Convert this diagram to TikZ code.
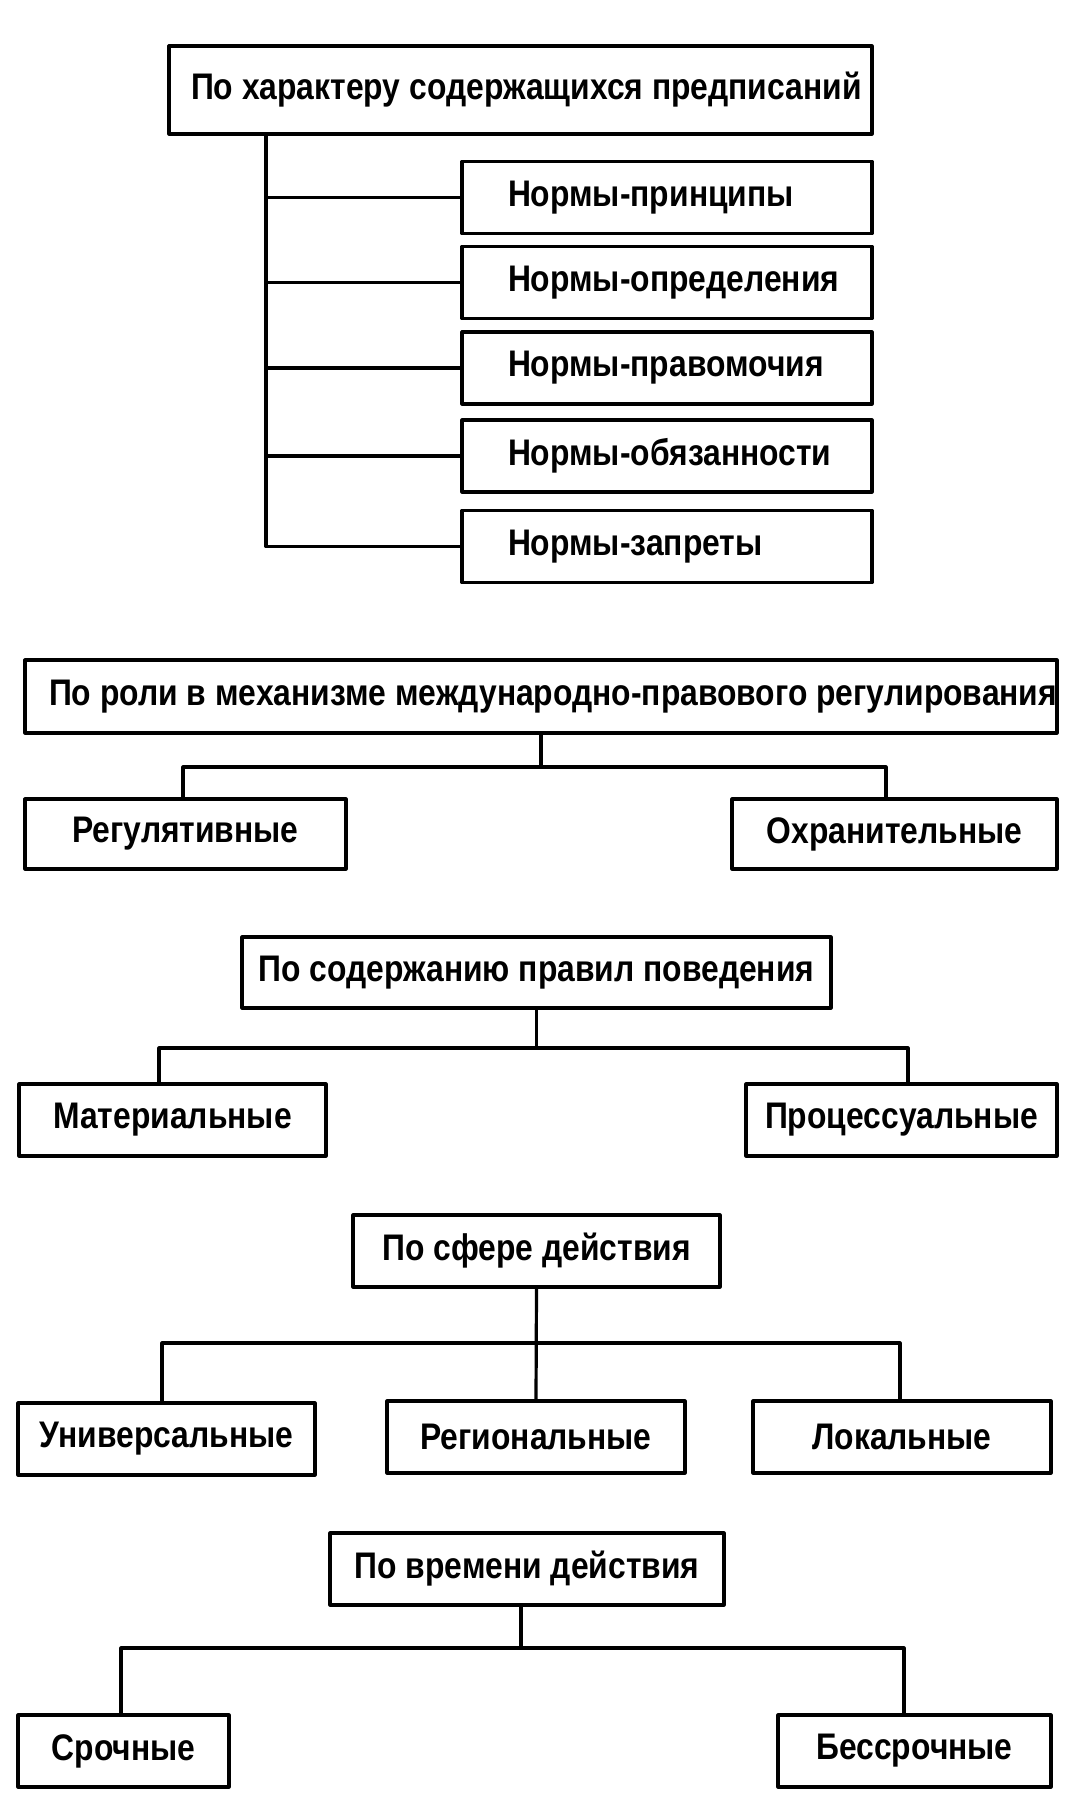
\documentclass[tikz,border=0pt]{standalone}
\usepackage{fontspec}
\setmainfont{Liberation Sans}[FakeStretch=0.86]
\begin{document}
\begin{tikzpicture}[x=1pt, y=-1pt, font=\fontsize{37}{42}\selectfont\bfseries, line join=round, line cap=round,
		box/.style={draw, line width=3.2pt, inner sep=0pt, minimum height=72pt},
		wire/.style={line width=3.2pt}]
		\useasboundingbox (0,0) rectangle (1065,1798);
		% по характеру предписаний
		\node[box, minimum width=703pt, minimum height=88pt, inner xsep=22pt] (pre) at (520.5,90) {\makebox[659pt][l]{По характеру содержащихся предписаний}};
		\node[box, minimum width=410pt, inner xsep=46pt] (p1) at (667,197.5) {\makebox[318pt][l]{Нормы-принципы}};
		\node[box, minimum width=410pt, inner xsep=46pt] (p2) at (667,282.5) {\makebox[318pt][l]{Нормы-определения}};
		\node[box, minimum width=410pt, inner xsep=46pt] (p3) at (667,368) {\makebox[318pt][l]{Нормы-правомочия}};
		\node[box, minimum width=410pt, inner xsep=46pt] (p4) at (667,456) {\makebox[318pt][l]{Нормы-обязанности}};
		\node[box, minimum width=410pt, inner xsep=46pt] (p5) at (667,546.5) {\makebox[318pt][l]{Нормы-запреты}};
		\coordinate (trunk) at (266,0);
		\draw[wire] (pre.south -| trunk) |- (p5.west);
		\draw[wire] (p1.west) -- (p1.west -| trunk) (p2.west) -- (p2.west -| trunk)
		(p3.west) -- (p3.west -| trunk) (p4.west) -- (p4.west -| trunk);
		
		% по роли
		\node[box, minimum width=1032pt, minimum height=73pt, inner xsep=24pt] (role) at (541,696.5) {\makebox[984pt][l]{По роли в механизме международно-правового регулирования}};
		\node[box, minimum width=321pt, minimum height=70pt] (reg) at (185.5,834) {Регулятивные};
		\node[box, minimum width=325pt, minimum height=70pt] (okhr) at (894.5,834) {Охранительные};
		\coordinate (barL2) at (183,767); \coordinate (barR2) at (886,767);
		\draw[wire] (role.south) -- (role.south |- barL2);
		\draw[wire] (reg.north -| barL2) -- (barL2) -- (barR2) -- (okhr.north -| barR2);
		
		% по содержанию
		\node[box, minimum width=589pt, minimum height=71pt] (cont) at (536.5,972.5) {По содержанию правил поведения};
		\node[box, minimum width=307pt] (mat) at (172.5,1120) {Материальные};
		\node[box, minimum width=311pt] (proc) at (901.5,1120) {Процессуальные};
		\coordinate (barL3) at (159,1048); \coordinate (barR3) at (908,1048);
		\draw[wire] (cont.south) -- (cont.south |- barL3);
		\draw[wire] (mat.north -| barL3) -- (barL3) -- (barR3) -- (proc.north -| barR3);
		
		% по сфере
		\node[box, minimum width=367pt] (sph) at (536.5,1251) {По сфере действия};
		\node[box, minimum width=297pt] (univ) at (166.5,1439) {Универсальные};
		\node[box, minimum width=298pt] (regn) at (536,1437) {Региональные};
		\node[box, minimum width=298pt] (lok) at (902,1437) {Локальные};
		\coordinate (barL4) at (162,1343); \coordinate (barR4) at (900,1343);
		\draw[wire] (sph.south) -- (regn.north);
		\draw[wire] (univ.north -| barL4) -- (barL4) -- (barR4) -- (lok.north -| barR4);
		
		% по времени
		\node[box, minimum width=394pt] (time) at (527,1569) {По времени действия};
		\node[box, minimum width=211pt] (sroch) at (123.5,1751) {Срочные};
		\node[box, minimum width=273pt] (bessr) at (914.5,1751) {Бессрочные};
		\coordinate (trunk5) at (521,1648);
		\coordinate (barL5) at (121,1648); \coordinate (barR5) at (904,1648);
		\draw[wire] (time.south -| trunk5) -- (trunk5);
		\draw[wire] (sroch.north -| barL5) -- (barL5) -- (barR5) -- (bessr.north -| barR5);
	\end{tikzpicture}
\end{document}
